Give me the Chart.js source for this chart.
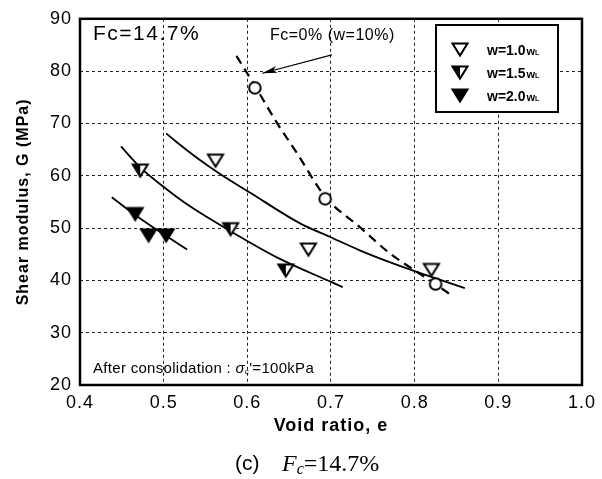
<!DOCTYPE html>
<html>
<head>
<meta charset="utf-8">
<script src="https://cdn.jsdelivr.net/npm/chart.js@4.4.1/dist/chart.umd.min.js"></script>
<style>
  html, body { margin: 0; padding: 0; background: #fff; }
  #wrap { position: relative; width: 602px; height: 479px; }
  #chart { position: absolute; left: 0; top: 0; }
  .cap { position: absolute; color: #000; white-space: nowrap; }
  #capc { left: 235px; top: 451px; font: 21px 'Liberation Sans', Arial, sans-serif; line-height: 24px; }
  #capf { left: 282px; top: 451px; font: 24px 'Liberation Serif', 'Times New Roman', serif; line-height: 24px; }
  #capf sub { font-size: 16px; vertical-align: -3px; }
</style>
</head>
<body>
<div id="wrap">
  <canvas id="chart" width="602" height="479"></canvas>
  <div class="cap" id="capc">(c)</div>
  <div class="cap" id="capf"><i>F</i><sub><i>c</i></sub>=14.7%</div>
</div>
<script>
'use strict'

const xTicks = [0.4, 0.5, 0.6, 0.7, 0.8, 0.9, 1.0];
const yTicks = [20, 30, 40, 50, 60, 70, 80, 90];

// Fc = 0% (w = 10%), measured points and dashed trend
const fc0E = [0.609, 0.693, 0.825];
const fc0G = [76.8, 55.6, 39.3];
const fc0FitE = [0.587, 0.609, 0.635, 0.659, 0.693, 0.735, 0.770, 0.800, 0.825, 0.845];
const fc0FitG = [82.9, 77.2, 70.2, 64.4, 56.0, 50.1, 45.2, 41.9, 39.3, 37.0];

// Fc = 14.7%, measured points
const w10E = [0.562, 0.673, 0.820];
const w10G = [62.8, 45.8, 41.9];
const w15E = [0.472, 0.580, 0.646];
const w15G = [60.9, 49.7, 41.8];
const w20E = [0.466, 0.482, 0.503];
const w20G = [52.6, 48.5, 48.5];

// solid trend lines
const fit10E = [0.503, 0.515, 0.540, 0.567, 0.603, 0.663, 0.699, 0.735, 0.770, 0.812, 0.860];
const fit10G = [68.1, 66.5, 63.4, 60.4, 56.8, 50.9, 48.3, 45.7, 43.5, 41.1, 38.5];
const fit15E = [0.449, 0.472, 0.502, 0.531, 0.580, 0.639, 0.700, 0.714];
const fit15G = [65.6, 61.6, 57.6, 54.2, 49.4, 44.1, 39.7, 38.7];
const fit20E = [0.438, 0.466, 0.500, 0.528];
const fit20G = [55.9, 52.5, 48.8, 45.9];

// annotation arrow (tail -> head)
const arrowE = [0.701, 0.618];
const arrowG = [83.1, 79.6];

const legendLabels = ['w=1.0', 'w=1.5', 'w=2.0'];

const FONT = "'Liberation Sans', Arial, sans-serif";
Chart.defaults.font.family = FONT;
Chart.defaults.color = '#000';

const pts = (es, gs) => es.map((e, i) => ({ x: e, y: gs[i] }));

// marker images
function marker(kind) {
  const c = document.createElement('canvas');
  c.width = 20; c.height = 18;
  const g = c.getContext('2d');
  g.lineWidth = 2;
  g.strokeStyle = '#000';
  if (kind === 'circle') {
    g.beginPath();
    g.arc(10, 9, 5.8, 0, Math.PI * 2);
    g.fillStyle = '#fff';
    g.fill();
    g.stroke();
    return c;
  }
  const L = 2.5, R = 17.5, T = 2.5, B = 14.5, M = 10;
  g.beginPath();
  g.moveTo(L, T); g.lineTo(R, T); g.lineTo(M, B); g.closePath();
  g.fillStyle = kind === 'filled' ? '#000' : '#fff';
  g.fill();
  if (kind === 'half') {
    g.beginPath();
    g.moveTo(L, T); g.lineTo(M, T); g.lineTo(M, B); g.closePath();
    g.fillStyle = '#000';
    g.fill();
    g.beginPath();
    g.moveTo(L, T); g.lineTo(R, T); g.lineTo(M, B); g.closePath();
  }
  g.stroke();
  return c;
}

const mk = {
  circle: marker('circle'),
  open: marker('open'),
  half: marker('half'),
  filled: marker('filled')
};

const markerSet = (label, data, style) => ({
  label, data, pointStyle: style, pointRadius: 9, showLine: false,
  borderColor: '#000', backgroundColor: '#fff'
});
const lineSet = (label, data, extra) => Object.assign({
  label, data, showLine: true, pointRadius: 0, borderColor: '#000',
  borderWidth: 1.8, cubicInterpolationMode: 'monotone', fill: false
}, extra || {});

const framePlugin = {
  id: 'frame',
  beforeDraw(chart) {
    chart.ctx.letterSpacing = '1px';
  },
  afterDatasetsDraw(chart) {
    const { ctx, chartArea: a, scales: { x, y } } = chart;
    ctx.save();
    ctx.letterSpacing = '0px';

    // arrow head
    const x0 = x.getPixelForValue(arrowE[0]), y0 = y.getPixelForValue(arrowG[0]);
    const x1 = x.getPixelForValue(arrowE[1]), y1 = y.getPixelForValue(arrowG[1]);
    const ang = Math.atan2(y1 - y0, x1 - x0);
    ctx.fillStyle = '#000';
    ctx.beginPath();
    ctx.moveTo(x1, y1);
    ctx.lineTo(x1 - 15 * Math.cos(ang) + 3.5 * Math.sin(ang), y1 - 15 * Math.sin(ang) - 3.5 * Math.cos(ang));
    ctx.lineTo(x1 - 11 * Math.cos(ang), y1 - 11 * Math.sin(ang));
    ctx.lineTo(x1 - 15 * Math.cos(ang) - 3.5 * Math.sin(ang), y1 - 15 * Math.sin(ang) + 3.5 * Math.cos(ang));
    ctx.closePath();
    ctx.fill();

    // annotation texts
    ctx.textBaseline = 'alphabetic';
    ctx.textAlign = 'left';
    ctx.font = '21px ' + FONT;
    ctx.letterSpacing = '1.5px';
    ctx.fillText('Fc=14.7%', 93, 40);

    ctx.font = '16px ' + FONT;
    ctx.letterSpacing = '0.5px';
    ctx.fillText('Fc=0% (w=10%)', 270, 40);

    ctx.font = '15px ' + FONT;
    ctx.letterSpacing = '0.3px';
    let tx = 93;
    const base = 373;
    const t1 = 'After consolidation : ';
    ctx.fillText(t1, tx, base);
    tx += ctx.measureText(t1).width;
    ctx.font = 'italic 15px ' + FONT;
    ctx.fillText('σ', tx, base);
    tx += ctx.measureText('σ').width;
    ctx.font = '8px ' + FONT;
    ctx.fillText('c', tx, base + 1);
    tx += ctx.measureText('c').width;
    ctx.font = '15px ' + FONT;
    ctx.fillText("'=100kPa", tx, base);

    // legend box
    const bx = 436, by = 25, bw = 122, bh = 87;
    ctx.fillStyle = '#fff';
    ctx.fillRect(bx, by, bw, bh);
    ctx.lineWidth = 2;
    ctx.strokeStyle = '#000';
    ctx.strokeRect(bx, by, bw, bh);
    const styles = [mk.open, mk.half, mk.filled];
    legendLabels.forEach((lab, i) => {
      const cy = 50 + i * 23;
      ctx.drawImage(styles[i], 460 - 10, cy - 9);
      ctx.fillStyle = '#000';
      ctx.letterSpacing = '0px';
      ctx.font = 'bold 14px ' + FONT;
      ctx.fillText(lab, 487, cy + 5);
      let lx = 487 + ctx.measureText(lab).width + 1;
      ctx.font = 'bold 11px ' + FONT;
      ctx.fillText('w', lx, cy + 5);
      lx += ctx.measureText('w').width;
      ctx.font = 'bold 7px ' + FONT;
      ctx.fillText('L', lx, cy + 5);
    });

    // plot frame
    ctx.lineWidth = 2.5;
    ctx.strokeRect(a.left, a.top, a.right - a.left, a.bottom - a.top);
    ctx.restore();
  }
};

new Chart(document.getElementById('chart'), {
  type: 'scatter',
  data: {
    datasets: [
      markerSet('Fc=0%', pts(fc0E, fc0G), mk.circle),
      markerSet(legendLabels[0], pts(w10E, w10G), mk.open),
      markerSet(legendLabels[1], pts(w15E, w15G), mk.half),
      markerSet(legendLabels[2], pts(w20E, w20G), mk.filled),
      lineSet('fit w=1.0', pts(fit10E, fit10G)),
      lineSet('fit w=1.5', pts(fit15E, fit15G)),
      lineSet('fit w=2.0', pts(fit20E, fit20G)),
      lineSet('fit Fc=0%', pts(fc0FitE, fc0FitG), { borderDash: [9, 6], borderWidth: 2.2 }),
      lineSet('arrow', pts(arrowE, arrowG), { borderWidth: 1.2, cubicInterpolationMode: 'default', tension: 0 })
    ]
  },
  options: {
    responsive: false,
    animation: false,
    devicePixelRatio: 1,
    layout: { padding: { top: 11, right: 20, left: 0, bottom: 0 } },
    plugins: { legend: { display: false }, tooltip: { enabled: false } },
    scales: {
      x: {
        type: 'linear', min: 0.4, max: 1.0,
        afterBuildTicks: s => { s.ticks = xTicks.map(v => ({ value: v })); },
        afterFit: s => { s.height = 94; },
        ticks: { font: { size: 18 }, padding: 7, callback: v => Number(v).toFixed(1) },
        grid: { color: '#222', lineWidth: 1, drawTicks: false },
        border: { display: false, dash: [3, 3] },
        title: { display: true, text: 'Void ratio, e', font: { size: 18, weight: 'bold' }, padding: { top: 0, bottom: 42 } }
      },
      y: {
        type: 'linear', min: 20, max: 90,
        afterBuildTicks: s => { s.ticks = yTicks.map(v => ({ value: v })); },
        afterFit: s => { s.width = 80; },
        ticks: { font: { size: 18 }, padding: 8 },
        grid: { color: '#222', lineWidth: 1, drawTicks: false },
        border: { display: false, dash: [3, 3] },
        title: { display: true, text: 'Shear modulus, G (MPa)', font: { size: 16, weight: 'bold' }, padding: { top: 14, bottom: 0 } }
      }
    }
  },
  plugins: [framePlugin]
});
</script>
</body>
</html>
